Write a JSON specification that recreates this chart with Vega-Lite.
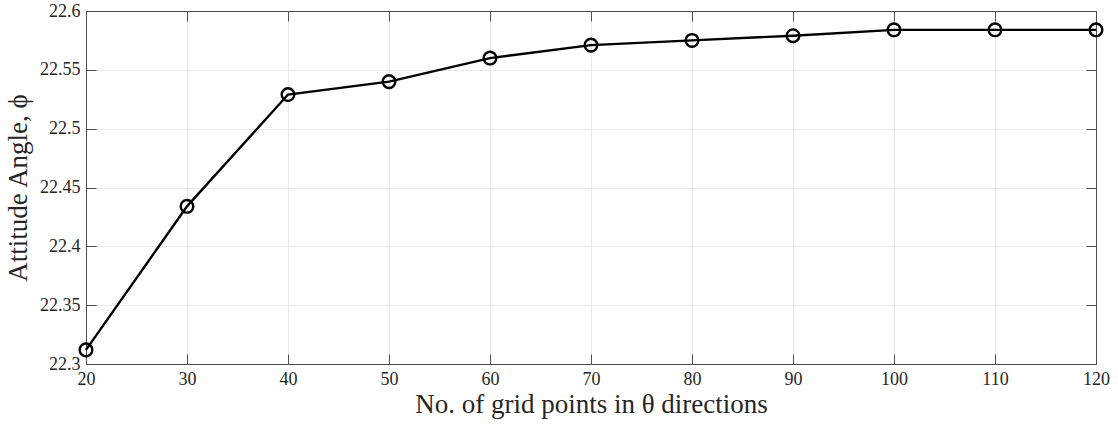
{
  "$schema": "https://vega.github.io/schema/vega-lite/v6.json",
  "width": 1010,
  "height": 353,
  "autosize": "none",
  "padding": {"left": 86, "top": 11, "right": 22, "bottom": 64},
  "background": "white",
  "config": {
    "view": {"stroke": "#4d4d4d", "strokeWidth": 1},
    "font": "Liberation Serif",
    "axis": {
      "labelFont": "Liberation Serif",
      "titleFont": "Liberation Serif",
      "labelFontSize": 18,
      "titleFontSize": 27,
      "labelColor": "#262626",
      "titleColor": "#262626",
      "titleFontWeight": "normal",
      "domainColor": "#4d4d4d",
      "tickColor": "#4d4d4d",
      "gridColor": "#e8e8e8",
      "gridOpacity": 1,
      "labelFlush": false
    }
  },
  "data": {
    "values": [
      {"n": 20, "phi": 22.312},
      {"n": 30, "phi": 22.434},
      {"n": 40, "phi": 22.529},
      {"n": 50, "phi": 22.540},
      {"n": 60, "phi": 22.560},
      {"n": 70, "phi": 22.571},
      {"n": 80, "phi": 22.575},
      {"n": 90, "phi": 22.579},
      {"n": 100, "phi": 22.584},
      {"n": 110, "phi": 22.584},
      {"n": 120, "phi": 22.584}
    ]
  },
  "layer": [
    {
      "mark": {"type": "line", "color": "black", "strokeWidth": 2.4},
      "encoding": {
        "x": {"field": "n", "type": "quantitative",
          "scale": {"domain": [20, 120], "nice": false},
          "axis": {"orient": "bottom", "values": [20,30,40,50,60,70,80,90,100,110,120],
            "labelFont": "Liberation Serif", "labelFlush": false,
            "title": "No. of grid points in θ directions", "tickSize": -10, "labelPadding": 16, "titlePadding": 3, "grid": true}},
        "y": {"field": "phi", "type": "quantitative",
          "scale": {"domain": [22.3, 22.6], "nice": false, "zero": false},
          "axis": {"orient": "left", "values": [22.3,22.35,22.4,22.45,22.5,22.55,22.6], "format": ".2~f",
            "labelFont": "Liberation Serif", "labelFlush": false,
            "title": "Attitude Angle, ϕ", "tickSize": -10, "labelPadding": 16, "titlePadding": 7, "grid": true}}
      }
    },
    {
      "mark": {"type": "point", "shape": "circle", "filled": false, "color": "black", "size": 160, "strokeWidth": 2.4, "opacity": 1},
      "encoding": {
        "x": {"field": "n", "type": "quantitative",
          "axis": {"orient": "top", "values": [20,30,40,50,60,70,80,90,100,110,120], "labels": false, "title": null, "tickSize": -10, "grid": false}},
        "y": {"field": "phi", "type": "quantitative",
          "axis": {"orient": "right", "values": [22.3,22.35,22.4,22.45,22.5,22.55,22.6], "labels": false, "title": null, "tickSize": -10, "grid": false}}
      }
    }
  ],
  "resolve": {"axis": {"x": "independent", "y": "independent"}}
}
